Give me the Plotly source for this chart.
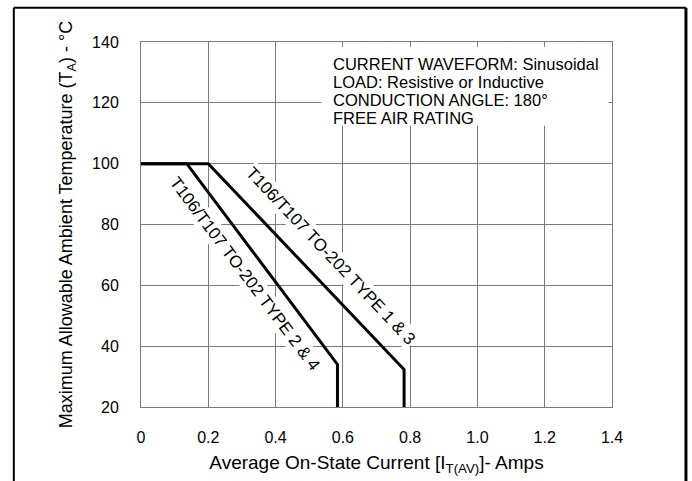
import plotly.graph_objects as go

# derating curves
type13_x = [0, 0.2, 0.782, 0.782]
type13_y = [100, 100, 32.3, 20]
type24_x = [0, 0.136, 0.584, 0.584]
type24_y = [100, 100, 34, 20]

x_ticks = [0, 0.2, 0.4, 0.6, 0.8, 1.0, 1.2, 1.4]
x_ticktext = ["0", "0.2", "0.4", "0.6", "0.8", "1.0", "1.2", "1.4"]
y_ticks = [20, 40, 60, 80, 100, 120, 140]

notes = ["CURRENT WAVEFORM: Sinusoidal",
         "LOAD: Resistive or Inductive",
         "CONDUCTION ANGLE: 180°",
         "FREE AIR RATING"]
notes_y = [132.8, 126.9, 121.0, 115.1]

FONT = "Liberation Sans, Arial, sans-serif"
GRID = "#7a7a7a"

fig = go.Figure()
fig.add_trace(go.Scatter(x=type13_x, y=type13_y, mode="lines",
                         line=dict(color="black", width=3), hoverinfo="skip"))
fig.add_trace(go.Scatter(x=type24_x, y=type24_y, mode="lines",
                         line=dict(color="black", width=3), hoverinfo="skip"))

# curve labels
fig.add_annotation(x=0.562, y=69.7, text="T106/T107 TO-202 TYPE 1 &amp; 3",
                   textangle=46.5, showarrow=False, bgcolor="white",
                   font=dict(size=17, color="black", family=FONT))
fig.add_annotation(x=0.307, y=63.8, text="T106/T107 TO-202 TYPE 2 &amp; 4",
                   textangle=53, showarrow=False, bgcolor="white",
                   font=dict(size=17, color="black", family=FONT))

# conditions box
fig.add_shape(type="rect", x0=0.536, x1=1.39, y0=112.5, y1=138.4,
              fillcolor="white", line=dict(width=0), layer="between")
for txt, yy in zip(notes, notes_y):
    fig.add_annotation(x=0.565, y=yy, xanchor="left", yanchor="middle", align="left",
                       text=txt, showarrow=False,
                       font=dict(size=16.5, color="black", family=FONT))

# outer frame of the figure
frame = dict(color="black", width=2)
fig.add_shape(type="line", xref="paper", yref="paper", x0=-0.27, x1=-0.27, y0=1.094, y1=-0.25, line=frame)
fig.add_shape(type="line", xref="paper", yref="paper", x0=-0.27, x1=1.157, y0=1.094, y1=1.094, line=frame)
fig.add_shape(type="line", xref="paper", yref="paper", x0=1.157, x1=1.157, y0=1.094, y1=-0.25,
              line=dict(color="black", width=3))

fig.update_xaxes(range=[0, 1.4], tickvals=x_ticks, ticktext=x_ticktext,
                 showgrid=True, gridcolor=GRID, gridwidth=1, zeroline=False,
                 showline=True, linecolor=GRID, linewidth=1, mirror=True,
                 ticks="", ticklabelstandoff=16,
                 tickfont=dict(size=16, color="black", family=FONT),
                 title=dict(text="Average On-State Current [I<sub>T(AV)</sub>]- Amps",
                            font=dict(size=19, color="black", family=FONT), standoff=10))
fig.update_yaxes(range=[20, 140], tickvals=y_ticks,
                 showgrid=True, gridcolor=GRID, gridwidth=1, zeroline=False,
                 showline=True, linecolor=GRID, linewidth=1, mirror=True,
                 ticks="", ticklabelstandoff=18,
                 tickfont=dict(size=16, color="black", family=FONT),
                 title=dict(text="Maximum Allowable Ambient Temperature (T<sub>A</sub>) - °C",
                            font=dict(size=18, color="black", family=FONT), standoff=14))

fig.update_layout(width=692, height=481, showlegend=False,
                  paper_bgcolor="white", plot_bgcolor="white",
                  margin=dict(l=141, r=80, t=42, b=74),
                  font=dict(family=FONT, color="black"))

# drop the browser's default body margin so the figure sits at the page corner
fig.write_html("out.html", config={"displayModeBar": False},
               post_script="document.body.style.margin='0';")
